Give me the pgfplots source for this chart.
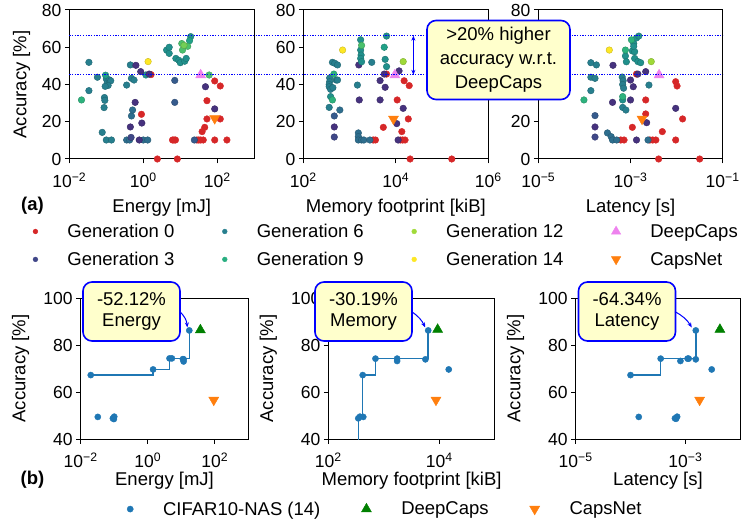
\documentclass[border=0pt]{standalone}
\usepackage{fontspec}
\setmainfont{Liberation Sans}
\usepackage{pgfplots}
\pgfplotsset{compat=1.18}
\usetikzlibrary{arrows.meta}

\definecolor{gen0}{HTML}{D62728}
\definecolor{gen3}{HTML}{404688}
\definecolor{gen6}{HTML}{277F8E}
\definecolor{gen9}{HTML}{28AE80}
\definecolor{gen12}{HTML}{A0DA39}
\definecolor{gen14}{HTML}{FDE725}
\definecolor{tabblue}{HTML}{1F77B4}
\definecolor{taborange}{HTML}{FF7F0E}
\definecolor{dcviolet}{HTML}{EE82EE}
\definecolor{dcgreen}{HTML}{008000}
\definecolor{notebg}{HTML}{FFFFCC}

\newcommand{\lab}{\fontsize{18.5}{22}\selectfont}
\newcommand{\tl}[1]{10\textsuperscript{#1}}

\pgfplotsset{
  panel/.style={
    scale only axis, anchor=south west,
    axis line style={line width=1pt},
    every tick/.style={black, line width=1pt},
    major tick length=4.5pt,
    tick align=outside, xtick pos=bottom, ytick pos=left,
    minor tick num=0,
    ticklabel style={font=\fontsize{17.5}{20}\selectfont},
    xticklabel style={yshift=-6pt},
    /pgf/number format/assume math mode=true,
    label style={font=\lab},
  },
  toprow/.style={panel, width=185pt, height=149pt, ymin=0, ymax=80, ytick={0,20,40,60,80},
    xlabel style={at={([yshift=-48.5pt]axis description cs:0.5,0)}, anchor=center},
    ylabel style={at={([xshift=-47.6pt]axis description cs:0,0.5)}, anchor=center}},
  botrow/.style={panel, width=166.5pt, height=141pt, ymin=40, ymax=100, ytick={40,60,80,100},
    ylabel={Accuracy [\%]},
    xlabel style={at={([yshift=-42pt]axis description cs:0.5,0)}, anchor=center},
    ylabel style={at={([xshift=-60pt]axis description cs:0,0.5)}, anchor=center}},
  gens/.style={scatter, only marks, mark=*, mark size=3.3pt, scatter src=explicit,
    colormap/viridis, point meta min=0, point meta max=14, forget plot},
  redpts/.style={only marks, mark=*, mark size=3.3pt, gen0, forget plot},
  deepcaps/.style={only marks, mark=triangle*, mark size=5.8pt, dcviolet, forget plot},
  capsnet/.style={only marks, mark=triangle*, mark size=5.8pt, taborange, mark options={rotate=180}, forget plot},
  front/.style={tabblue, line width=1.5pt, const plot mark left, no marks, forget plot},
  nas/.style={only marks, mark=*, mark size=3.1pt, tabblue},
}

\begin{document}
\begin{tikzpicture}[x=1pt, y=1pt]
\path[use as bounding box] (0,0) rectangle (741,525);

% ---------------- (a) energy
\begin{axis}[toprow, at={(69.3pt,366pt)}, xmin=-2, xmax=3,
  xtick={-2,0,2}, xticklabels={\tl{−2},\tl{0},\tl{2}},
  xlabel={Energy [mJ]}, ylabel={Accuracy [\%]},
  legend columns=4, legend cell align=left,
  legend style={draw=none, fill=none, at={(-0.196,-0.423)}, anchor=north west,
    inner sep=0pt, outer sep=0pt, font=\lab, row sep=9pt,
    /tikz/every odd column/.append style={column sep=27.6pt},
    /tikz/every even column/.append style={column sep=46pt}}]
\addplot[redpts] table[row sep=\\] {x y\\
0.21 45.3\\ -0.05 24.0\\ 0.38 0\\ 0.79 10.2\\ 0.83 10.2\\ 0.87 10.2\\ 0.92 0\\
1.45 10.2\\ 1.50 10.2\\ 1.55 10.2\\ 1.62 10.2\\ 1.59 14.7\\ 1.66 17.0\\ 1.72 21.5\\
1.72 31.3\\ 1.93 41.9\\ 1.93 10.2\\ 2.08 39.2\\ 2.08 21.5\\ 2.26 10.2\\};
\addplot[gens] table[row sep=\\, meta=g] {x y g\\
-1.11 14.3 6\\ -1.06 27.6 6\\ -1.05 33.0 6\\ -1.04 31.5 6\\ -1.47 51.9 6\\ -1.47 36.7 6\\
-1.24 43.9 6\\ -1.00 43.0 6\\ -0.97 41.0 6\\ -0.92 42.5 6\\ -0.88 42.0 6\\ -0.95 39.5 6\\
-1.03 39.0 6\\ -1.00 10.2 6\\ -0.86 10.2 6\\ -0.45 10.2 5\\ -0.37 10.2 5\\ -0.45 39.7 6\\
-0.35 50.5 6\\ -0.32 43.3 6\\ -0.25 42.4 6\\ -0.32 23.1 5\\ -0.29 26.3 5\\ 0.00 10.2 5\\
0.12 10.2 5\\ 0.07 45.1 7\\ 0.85 30.4 4\\ 0.85 42.2 4\\ 1.38 10.2 4\\
-0.22 30.4 2\\ -0.35 17.2 2\\ -0.33 11.6 3\\ -0.20 50.3 2\\ -0.11 10.2 2\\ -0.07 46.9 2\\
-0.04 19.3 2\\ 0.16 45.6 2\\ 1.68 38.8 2\\ 1.93 26.9 2\\
0.63 58.5 7\\ 0.70 60.0 7\\ 0.70 56.7 7\\ 0.88 54.0 7\\ 0.96 53.0 7\\ 1.00 51.7 7\\
1.12 52.5 7\\ 1.16 54.0 7\\ 1.28 65.7 7\\ 1.25 63.5 8\\ -1.02 45.0 8\\
1.04 62.0 10\\ 1.06 58.5 10\\ 1.20 60.5 10\\ 1.10 61.0 11\\ 1.78 45.1 10\\ -1.67 31.7 9\\
0.13 52.3 14\\};
\addplot[deepcaps] coordinates {(1.55,45.1)};
\addplot[capsnet] coordinates {(1.93,21.8)};
\coordinate (hiL) at (axis cs:-2,66.2);
\coordinate (loL) at (axis cs:-2,45.2);
\addlegendimage{only marks, mark=*, mark size=2.4pt, gen0}\addlegendentry{Generation 0}
\addlegendimage{only marks, mark=*, mark size=2.4pt, gen6}\addlegendentry{Generation 6}
\addlegendimage{only marks, mark=*, mark size=2.4pt, gen12}\addlegendentry{Generation 12}
\addlegendimage{only marks, mark=triangle*, mark size=5.4pt, dcviolet}\addlegendentry{DeepCaps}
\addlegendimage{only marks, mark=*, mark size=2.4pt, gen3}\addlegendentry{Generation 3}
\addlegendimage{only marks, mark=*, mark size=2.4pt, gen9}\addlegendentry{Generation 9}
\addlegendimage{only marks, mark=*, mark size=2.4pt, gen14}\addlegendentry{Generation 14}
\addlegendimage{only marks, mark=triangle*, mark size=5.4pt, taborange, mark options={rotate=180}}\addlegendentry{CapsNet}
\end{axis}

% ---------------- (a) memory
\begin{axis}[toprow, at={(303.3pt,366pt)}, xmin=2, xmax=6,
  xtick={2,4,6}, xticklabels={\tl{2},\tl{4},\tl{6}},
  xlabel={Memory footprint [kiB]}]
\addplot[redpts] table[row sep=\\] {x y\\
3.51 10.2\\ 3.56 10.2\\ 3.73 17.0\\ 3.80 45.6\\ 4.03 31.7\\ 4.10 10.2\\ 4.15 10.2\\
4.20 10.2\\ 4.13 14.7\\ 4.18 42.0\\ 4.27 21.5\\ 4.29 39.4\\ 4.31 0\\ 5.21 0\\};
\addplot[gens] table[row sep=\\, meta=g] {x y g\\
2.63 51.9 6\\ 2.68 51.4 6\\ 2.74 50.5 6\\ 2.57 43.5 6\\ 2.57 41.5 6\\ 2.56 40.0 6\\
2.56 38.8 6\\ 2.59 37.4 6\\ 2.64 38.3 6\\ 2.71 42.4 6\\ 2.74 42.4 6\\ 2.56 27.7 6\\
2.79 26.3 5\\ 2.67 23.1 4\\ 2.67 17.2 2\\ 2.67 11.8 3\\ 3.17 39.7 6\\ 3.21 31.7 2\\
3.20 50.5 2\\ 3.48 51.9 6\\ 3.19 14.0 5\\ 3.19 12.0 5\\ 3.19 10.2 5\\ 3.26 10.2 5\\
3.31 10.2 5\\ 3.44 10.2 5\\ 3.66 42.1 2\\ 3.66 31.7 2\\ 3.75 45.6 2\\ 3.77 38.5 2\\
4.07 47.3 2\\ 4.05 10.2 2\\ 4.16 27.2 2\\ 4.02 19.0 2\\
2.59 33.5 7\\ 3.24 64.0 7\\ 3.24 58.5 7\\ 3.25 55.8 7\\ 3.24 54.0 7\\ 3.26 52.2 7\\
3.80 66.0 7\\ 3.77 53.5 7\\ 3.80 49.6 7\\ 3.75 60.0 8\\
2.66 45.6 9\\ 2.63 31.7 9\\ 3.26 61.0 10\\ 4.16 52.3 12\\ 2.85 58.5 14\\};
\addplot[deepcaps] coordinates {(3.98,45.1)};
\addplot[capsnet] coordinates {(3.95,21.5)};
\draw[{Stealth[length=5pt,width=4pt]}-{Stealth[length=5pt,width=4pt]}, blue, line width=1pt]
  (axis cs:4.38,66.2) -- (axis cs:4.38,45.2);
\end{axis}

% ---------------- (a) latency
\begin{axis}[toprow, at={(538.3pt,366pt)}, width=184.4pt, xmin=-5, xmax=-1,
  xtick={-5,-3,-1}, xticklabels={\tl{−5},\tl{−3},\tl{−1}},
  xlabel={Latency [s]}]
\addplot[redpts] table[row sep=\\] {x y\\
-3.21 10.2\\ -3.14 10.2\\ -2.96 17.0\\ -2.87 45.6\\ -2.67 31.7\\ -2.67 24.2\\ -2.58 10.2\\
-2.52 10.2\\ -2.45 10.2\\ -2.31 14.7\\ -2.39 0\\ -2.02 41.5\\ -1.99 39.2\\ -2.02 10.2\\
-1.87 21.5\\ -1.50 0\\};
\addplot[gens] table[row sep=\\, meta=g] {x y g\\
-3.86 51.7 6\\ -3.74 50.5 6\\ -3.86 43.9 6\\ -3.77 43.3 6\\ -3.86 36.7 6\\ -3.77 23.3 4\\
-3.77 17.2 2\\ -3.77 11.8 3\\ -3.38 50.3 2\\ -3.50 14.0 5\\ -3.42 12.0 5\\ -3.39 10.2 5\\
-3.30 10.2 5\\ -3.39 30.4 2\\ -3.18 44.0 6\\ -3.16 42.0 6\\ -3.17 40.0 6\\ -3.15 38.0 6\\
-3.17 27.7 6\\ -3.10 26.3 6\\ -3.00 42.4 2\\ -2.94 38.8 2\\ -3.00 31.7 2\\ -2.84 45.6 2\\
-2.67 46.9 2\\ -2.65 19.5 2\\ -2.87 10.2 2\\ -2.62 10.2 5\\ -2.60 39.7 6\\ -2.02 27.2 2\\
-3.17 31.7 7\\ -3.11 55.3 7\\ -3.09 52.2 7\\ -2.93 62.0 7\\ -2.87 65.0 7\\ -2.82 66.0 7\\
-2.96 58.0 7\\ -2.91 57.6 7\\ -2.93 60.5 7\\ -2.91 54.0 7\\ -2.84 52.3 7\\ -2.78 51.7 7\\
-4.01 31.7 9\\ -3.17 33.5 9\\ -3.11 58.5 9\\ -2.98 64.0 9\\ -2.55 52.3 12\\ -3.46 58.5 14\\};
\addplot[deepcaps] coordinates {(-2.38,45.1)};
\addplot[capsnet] coordinates {(-2.75,21.5)};
\coordinate (Rtop) at (axis description cs:1,1);
\end{axis}

% ---------------- (b) energy
\begin{axis}[botrow, at={(80.7pt,86pt)}, width=167.6pt, xmin=-2, xmax=3,
  xtick={-2,0,2}, xticklabels={\tl{−2},\tl{0},\tl{2}},
  xlabel={Energy [mJ]},
  legend columns=3, legend cell align=left,
  legend style={draw=none, fill=none, at={(0.277,-0.43)}, anchor=north west,
    inner sep=0pt, outer sep=0pt, font=\lab,
    /tikz/every odd column/.append style={column sep=27.8pt},
    /tikz/every even column/.append style={column sep=39pt}}]
\addplot[front] table[row sep=\\] {x y\\ -1.70 67.2\\ 0.16 69.6\\ 0.65 74.3\\ 1.24 86.2\\};
\addplot[nas] table[row sep=\\] {x y\\
-1.70 67.2\\ -1.49 49.4\\ -1.04 48.8\\ -1.00 49.5\\ -1.01 48.5\\ 0.16 69.6\\ 0.65 74.3\\
0.72 74.3\\ 1.07 73.9\\ 1.07 73.0\\ 1.05 74.0\\ 1.24 86.2\\};
\addlegendentry{CIFAR10-NAS (14)}
\addplot[only marks, mark=triangle*, mark size=5.8pt, dcgreen] coordinates {(1.57,86.4)};
\addlegendentry{DeepCaps}
\addplot[only marks, mark=triangle*, mark size=5.8pt, taborange, mark options={rotate=180}] coordinates {(1.97,56.6)};
\addlegendentry{CapsNet}
\coordinate (p1) at (axis cs:1.24,86.2);
\end{axis}

% ---------------- (b) memory
\begin{axis}[botrow, at={(328.3pt,86pt)}, xmin=2, xmax=5,
  xtick={2,4}, xticklabels={\tl{2},\tl{4}},
  xlabel={Memory footprint [kiB]}]
\addplot[front] table[row sep=\\] {x y\\ 2.54 30.0\\ 2.54 48.8\\ 2.62 67.2\\ 2.85 74.2\\ 3.80 86.2\\};
\addplot[nas, forget plot] table[row sep=\\] {x y\\
2.54 48.8\\ 2.57 49.5\\ 2.63 49.4\\ 2.62 67.2\\ 2.85 74.2\\ 3.24 74.2\\ 3.24 73.2\\
3.75 73.9\\ 3.80 86.2\\ 4.17 69.6\\};
\addplot[only marks, mark=triangle*, mark size=5.8pt, dcgreen, forget plot] coordinates {(3.97,86.6)};
\addplot[only marks, mark=triangle*, mark size=5.8pt, taborange, mark options={rotate=180}, forget plot] coordinates {(3.94,56.6)};
\coordinate (p2) at (axis cs:3.80,86.2);
\end{axis}

% ---------------- (b) latency
\begin{axis}[botrow, at={(575.7pt,86pt)}, width=164.5pt, xmin=-5, xmax=-2,
  xtick={-5,-3}, xticklabels={\tl{−5},\tl{−3}},
  xlabel={Latency [s]}]
\addplot[front] table[row sep=\\] {x y\\ -4.00 67.2\\ -3.45 74.2\\ -2.81 86.2\\};
\addplot[nas, forget plot] table[row sep=\\] {x y\\
-4.00 67.2\\ -3.85 49.4\\ -3.45 74.2\\ -3.19 48.8\\ -3.15 49.5\\ -3.17 48.6\\ -3.09 73.2\\
-2.96 74.2\\ -2.94 74.2\\ -2.81 73.9\\ -2.81 86.2\\ -2.52 69.6\\};
\addplot[only marks, mark=triangle*, mark size=5.8pt, dcgreen, forget plot] coordinates {(-2.37,86.6)};
\addplot[only marks, mark=triangle*, mark size=5.8pt, taborange, mark options={rotate=180}, forget plot] coordinates {(-2.74,56.6)};
\coordinate (p3) at (axis cs:-2.81,86.2);
\end{axis}

% ---------------- annotations
\draw[blue, line width=1.3pt, dash pattern=on 1.3pt off 1.4pt] (hiL) -- (hiL -| Rtop);
\draw[blue, line width=1.3pt, dash pattern=on 1.3pt off 1.4pt] (loL) -- (loL -| Rtop);

\tikzset{note/.style={draw=blue, line width=1.6pt, fill=notebg, rounded corners=9pt,
  align=center, inner sep=0pt}}
\node[note, minimum width=143pt, minimum height=79pt, font=\fontsize{18.5}{24}\selectfont]
  at (498.5,465) {>20\% higher\\accuracy w.r.t.\\DeepCaps};

\node[note, minimum width=97pt, minimum height=59pt, font=\fontsize{18.5}{21.5}\selectfont]
  at (131.5,213.5) {-52.12\%\\Energy};
\node[note, minimum width=97pt, minimum height=59pt, font=\fontsize{18.5}{21.5}\selectfont]
  at (363.5,213.5) {-30.19\%\\Memory};
\node[note, minimum width=97pt, minimum height=59pt, font=\fontsize{18.5}{21.5}\selectfont]
  at (627,213.5) {-64.34\%\\Latency};
\draw[-{Stealth[length=5pt,width=4pt]}, blue, line width=1pt] (180,213.3) to[bend left=20] ([shift={(-2pt,3pt)}]p1);
\draw[-{Stealth[length=5pt,width=4pt]}, blue, line width=1pt] (411.7,213.3) to[bend left=15] ([shift={(-3pt,3pt)}]p2);
\draw[-{Stealth[length=5pt,width=4pt]}, blue, line width=1pt] (675,213.3) to[bend left=15] ([shift={(-4pt,3pt)}]p3);

\node[font=\bfseries\lab] at (32.5,319) {(a)};
\node[font=\bfseries\lab] at (32.5,45) {(b)};
\end{tikzpicture}
\end{document}
